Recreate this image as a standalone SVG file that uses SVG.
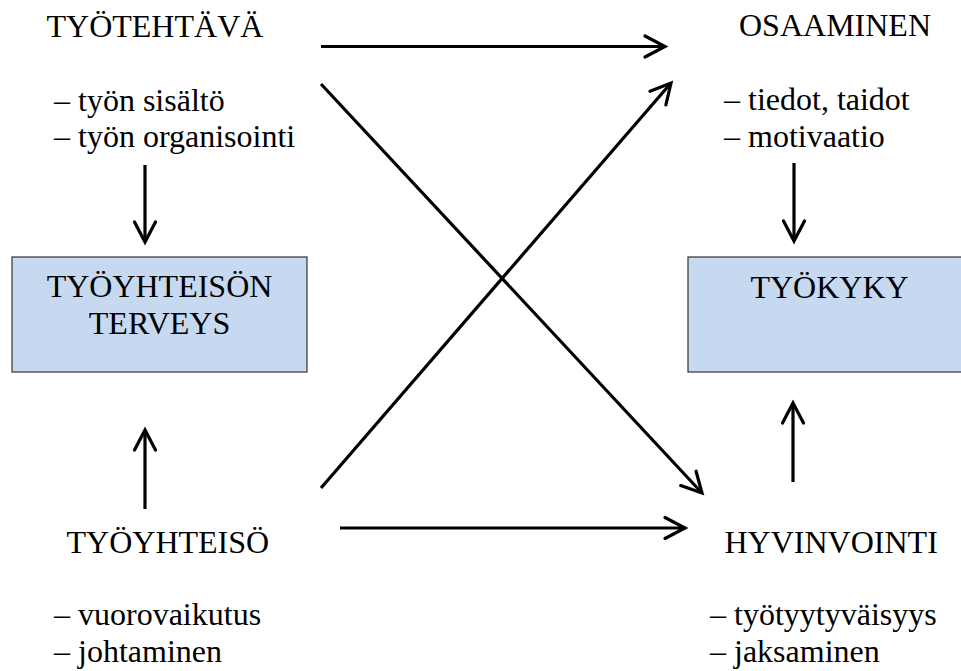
<svg xmlns="http://www.w3.org/2000/svg" width="961" height="671" viewBox="0 0 961 671">
<defs>
<marker id="arr" markerUnits="userSpaceOnUse" markerWidth="30" markerHeight="30" viewBox="-24 -15 30 30" refX="0" refY="0" orient="auto">
<path d="M -20,-10.5 L 0,0 L -20,10.5" fill="none" stroke="#000" stroke-width="3.2" stroke-linecap="round" stroke-linejoin="miter"/>
</marker>
</defs>
<style>
.box { fill: #c6d9f0; stroke: #404040; stroke-width: 1.3; }
.c { stroke: #000; stroke-width: 3.2; fill: none; marker-end: url(#arr); }
</style>
<rect width="961" height="671" fill="#fff"/>
<g style="font-family:'Liberation Serif', serif; font-size:32px" fill="#000">
<g id="tyotehtava">
<text x="46.5" y="37">TYÖTEHTÄVÄ</text>
<text x="54" y="111">– työn sisältö</text>
<text x="54" y="147">– työn organisointi</text>
</g>
<g id="osaaminen">
<text x="739" y="36">OSAAMINEN</text>
<text x="724" y="110">– tiedot, taidot</text>
<text x="724" y="147">– motivaatio</text>
</g>
<g id="tyoyhteison-terveys">
<rect class="box" x="12" y="257" width="295" height="115"/>
<text x="159.5" y="297" text-anchor="middle">TYÖYHTEISÖN</text>
<text x="159.5" y="334" text-anchor="middle">TERVEYS</text>
</g>
<g id="tyokyky">
<rect class="box" x="688" y="257" width="284" height="115"/>
<text x="829.5" y="298" text-anchor="middle">TYÖKYKY</text>
</g>
<g id="tyoyhteiso">
<text x="66.5" y="553">TYÖYHTEISÖ</text>
<text x="54" y="625">– vuorovaikutus</text>
<text x="54" y="662">– johtaminen</text>
</g>
<g id="hyvinvointi">
<text x="724.5" y="553">HYVINVOINTI</text>
<text x="710" y="625">– työtyytyväisyys</text>
<text x="710" y="662">– jaksaminen</text>
</g>
</g>
<g id="connectors">
<line class="c" x1="321" y1="46.5" x2="665" y2="46.5"/>
<line class="c" x1="321" y1="84" x2="702" y2="493"/>
<line class="c" x1="321" y1="488" x2="671" y2="83"/>
<line class="c" x1="340" y1="528" x2="685" y2="528"/>
<line class="c" x1="145" y1="165" x2="145" y2="242"/>
<line class="c" x1="145" y1="509" x2="145" y2="430"/>
<line class="c" x1="794" y1="163" x2="794" y2="241"/>
<line class="c" x1="793" y1="482" x2="793" y2="403"/>
</g>
</svg>
